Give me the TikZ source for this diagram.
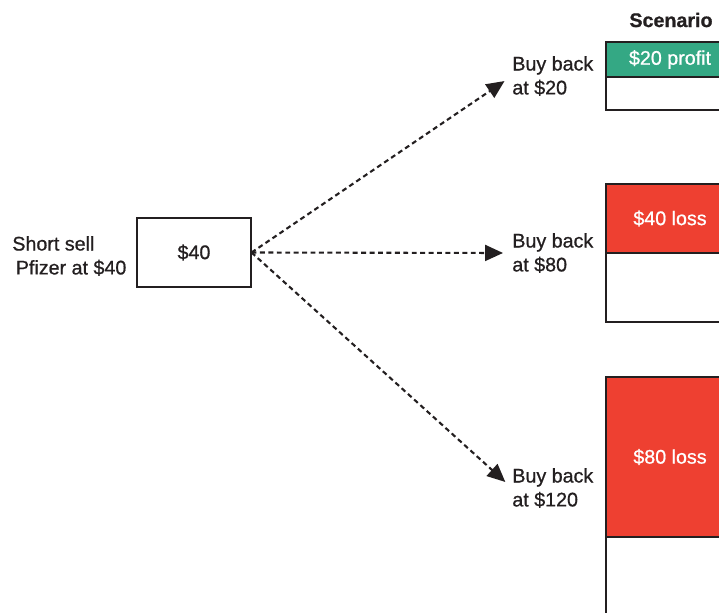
\documentclass[tikz,border=0pt]{standalone}
\usepackage{fontspec}
\setmainfont{Liberation Sans}[FakeBold=0.8]
\usetikzlibrary{arrows.meta}
\definecolor{gaingreen}{RGB}{52,168,132}
\definecolor{lossred}{RGB}{238,64,49}
\definecolor{inkdark}{RGB}{35,31,32}

\begin{document}
\begin{tikzpicture}[x=0.02cm,y=-0.02cm,
  every node/.style={font=\fontsize{11.2}{13.6}\selectfont,text=inkdark},
  label/.style={align=left,inner sep=0pt},
  pricebox/.style={draw=inkdark,line width=0.6pt,minimum width=2.28cm,minimum height=1.38cm},
  move/.style={line width=1.2pt,inkdark,dash pattern=on 2.8pt off 2pt,
    -{Triangle[length=0.36cm,width=0.32cm]},shorten >=0.18cm},
  cell/.style={draw=inkdark,line width=0.6pt,minimum width=2.56cm,inner sep=0pt,text=white}]
  \useasboundingbox (0,0) rectangle (719,612);
  \clip (0,0) rectangle (719,612);

  % starting position
  \node[label] (short) at (12,256) [anchor=west] {Short sell\\\hspace*{2pt}Pfizer at \$40};
  \node[pricebox] (start) at (194,252.5) {\$40};

  % the three outcomes
  \node[label,anchor=west] (back20) at (512,76) {Buy back\\at \$20};
  \node[label,anchor=west] (back80) at (512,253) {Buy back\\at \$80};
  \node[label,anchor=west] (back120) at (512,488) {Buy back\\at \$120};

  \draw[move] (start.east) -- (back20.west);
  \draw[move] (start.east) -- (back80.west);
  \draw[move] (start.east) -- (back120.west);

  % scenario column
  \node[font=\fontsize{11.2}{13.6}\selectfont\bfseries] (scen) at (671,20) {Scenario};
  \node[cell,fill=gaingreen,minimum height=0.7cm] (profit20) at (670,59.5) {\$20 profit};
  \node[cell,minimum height=0.66cm] (rest20) at (670,93.5) {};
  \node[cell,fill=lossred,minimum height=1.38cm] (loss40) at (670,218.5) {\$40 loss};
  \node[cell,minimum height=1.38cm] (rest40) at (670,287.5) {};
  \node[cell,fill=lossred,minimum height=3.2cm] (loss80) at (670,457) {\$80 loss};
  \node[cell,minimum height=3.2cm] (rest80) at (670,617) {};
\end{tikzpicture}
\end{document}
